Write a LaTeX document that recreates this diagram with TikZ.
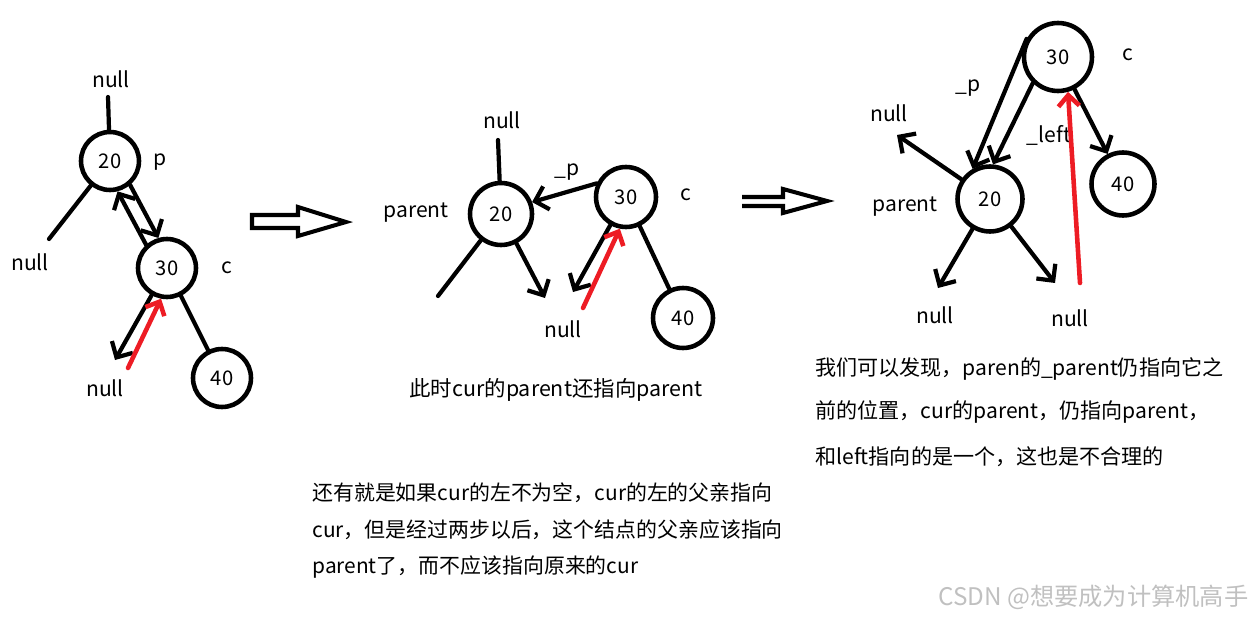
\documentclass[tikz,border=0pt]{standalone}
\usepackage{fontspec}
\setmainfont{Noto Sans CJK SC}
\usetikzlibrary{arrows.meta}
\definecolor{redarrow}{RGB}{237,28,36}
\definecolor{wmgray}{RGB}{192,192,192}
\begin{document}
\begin{tikzpicture}[x=0.02cm,y=-0.02cm,
  treenode/.style={circle,draw,line width=2.6pt,minimum size=1.16cm,inner sep=0pt,font=\fontsize{11.5}{13}\selectfont},
  lbl/.style={inner sep=0pt,font=\fontsize{12}{14}\selectfont},
  para/.style={inner sep=0pt,anchor=west,font=\fontsize{12}{14}\selectfont},
  edge/.style={line width=2.4pt,line cap=round},
  arr/.style={edge,-{Straight Barb[length=2.4mm,width=4.8mm,line width=2.4pt]}},
  redarr/.style={line width=2.6pt,line cap=round,draw=redarrow,-{Straight Barb[length=2.2mm,width=4.2mm,line width=2.6pt]}},
  blockarrow/.style={line width=2.3pt,line join=miter},
]
\useasboundingbox (0,0) rectangle (1254,618);

% ---------- left tree ----------
\node[treenode] (L20) at (110,161) {20};
\node[lbl] (Lnull1) at (111,79) {null};
\coordinate (Ltop) at (108,97);
\draw[edge] (L20) -- (Ltop);
\node[lbl] (Lp) at (160,162) {p};
\coordinate (Lll) at (49,239);
\draw[edge] (L20) -- (Lll);
\node[lbl] (Lnull2) at (30,262) {null};
\node[treenode] (L30) at (167,268) {30};
\node[lbl] (Lc) at (227,268) {c};
\draw[arr] (L30.132) -- (L20.284);
\draw[arr] (L20.310) -- (L30.106);
\coordinate (Ldl) at (115,360);
\draw[arr] (L30) -- (Ldl);
\node[lbl] (Lnull3) at (105,388) {null};
\node[treenode] (L40) at (222,378) {40};
\draw[edge] (L30) -- (L40);
\coordinate (Lred) at (128,368);
\draw[redarr] (Lred) -- (L30.259);

% ---------- block arrow 1 ----------
\draw[blockarrow] (252,215) -- (298,215) -- (298,207) -- (346,222) -- (298,236) -- (298,228) -- (252,228) -- cycle;

% ---------- middle tree ----------
\node[treenode,minimum size=1.24cm] (M20) at (501,214) {20};
\node[lbl] (Mnull1) at (502,120) {null};
\coordinate (Mtop) at (498,140);
\draw[edge] (M20) -- (Mtop);
\node[lbl] (Mparent) at (416,213) {parent};
\coordinate (Mll) at (438,296);
\draw[edge] (M20) -- (Mll);
\coordinate (Mlr) at (545,298);
\draw[arr] (M20) -- (Mlr);
\node[treenode,minimum size=1.2cm] (M30) at (626,197) {30};
\node[lbl] (Mc) at (686,195) {c};
\draw[arr] (M30.155) -- (M20.21);
\node[lbl] (Mp) at (567,172) {\_p};
\coordinate (Mrl) at (573,292);
\draw[arr] (M30) -- (Mrl);
\node[lbl] (Mnull2) at (563,329) {null};
\node[treenode,minimum size=1.2cm] (M40) at (683,318) {40};
\draw[edge] (M30) -- (M40);
\coordinate (Mred) at (583,308);
\draw[redarr] (Mred) -- (M30.259);
\node[lbl,font=\fontsize{12.2}{14}\selectfont] (Mcap) at (556,390) {此时cur的parent还指向parent};

% ---------- block arrow 2 ----------
\draw[blockarrow] (742,197) -- (783,197) -- (783,189) -- (827,201) -- (783,213) -- (783,206) -- (742,206);

% ---------- right tree ----------
\node[treenode,minimum size=1.36cm] (R30) at (1058,57) {30};
\node[lbl] (Rc) at (1128,55) {c};
\node[treenode,minimum size=1.3cm] (R20) at (990,199) {20};
\node[treenode,minimum size=1.26cm] (R40) at (1123,184) {40};
\node[lbl] (Rparent) at (905,207) {parent};
\node[lbl] (Rnull1) at (889,113) {null};
\node[lbl] (Rp) at (968,88) {\_p};
\node[lbl] (Rlef) at (1049,135) {\_left};
\draw[arr] (R30.150) -- (R20.120);
\draw[arr] (R30.226) -- (R20.85);
\draw[arr] (R30) -- (R40);
\coordinate (Rul) at (897,135);
\draw[arr] (R20) -- (Rul);
\coordinate (Rdl) at (938,288);
\draw[arr] (R20) -- (Rdl);
\coordinate (Rdr) at (1055,283);
\draw[arr] (R20) -- (Rdr);
\node[lbl] (Rnull2) at (935,315) {null};
\node[lbl] (Rnull3) at (1070,318) {null};
\coordinate (Rred) at (1080,283);
\draw[redarr] (Rred) -- (R30.286);

% ---------- paragraphs ----------
\node[para] (P1) at (815,369) {我们可以发现，paren的\_parent仍指向它之};
\node[para] (P2) at (815,412) {前的位置，cur的parent，仍指向parent，};
\node[para] (P3) at (815,457) {和left指向的是一个，这也是不合理的};
\node[para,font=\fontsize{11.9}{14}\selectfont] (Q1) at (312,493) {还有就是如果cur的左不为空，cur的左的父亲指向};
\node[para,font=\fontsize{11.9}{14}\selectfont] (Q2) at (312,530) {cur，但是经过两步以后，这个结点的父亲应该指向};
\node[para,font=\fontsize{11.9}{14}\selectfont] (Q3) at (312,567) {parent了，而不应该指向原来的cur};

% ---------- watermark ----------
\node[para,text=wmgray,font=\fontsize{13.8}{16}\selectfont] (WM) at (938,597) {CSDN @想要成为计算机高手};
\end{tikzpicture}
\end{document}
